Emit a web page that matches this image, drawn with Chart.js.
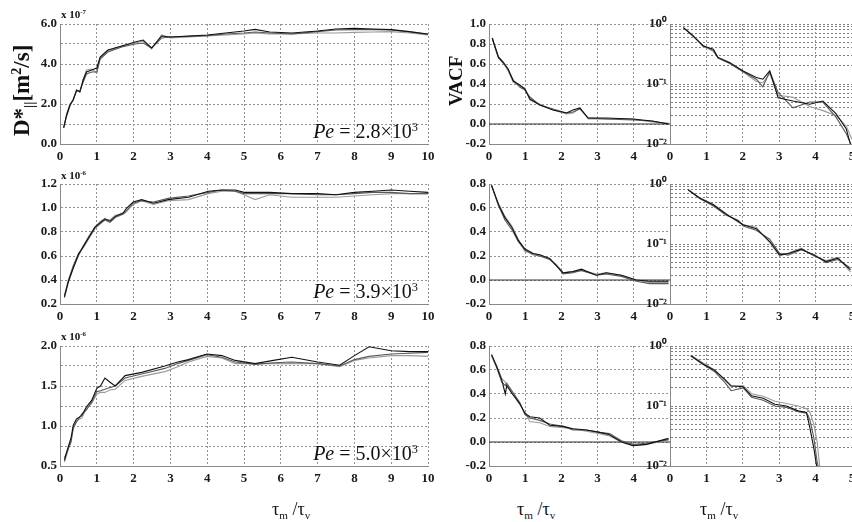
<!DOCTYPE html>
<html>
<head>
<meta charset="utf-8">
<script src="https://cdn.jsdelivr.net/npm/chart.js@4.4.1/dist/chart.umd.min.js"></script>
<style>
  body { margin: 0; background: #fff; }
  #fig { position: relative; width: 852px; height: 522px; overflow: hidden; font-family: "Liberation Serif", "DejaVu Serif", serif; color: #111; }
  #fig canvas { position: absolute; }
  .lbl { position: absolute; white-space: nowrap; z-index: 5; line-height: 1; }
  .lbl sup { font-size: 62%; vertical-align: 0; position: relative; top: -0.55em; }
  .lbl sub { font-size: 62%; vertical-align: 0; position: relative; top: 0.35em; }
  .mult { font-size: 11px; font-weight: bold; }
  .pe { font-size: 20px; }
  .vt { transform: rotate(-90deg); transform-origin: left top; font-weight: bold; font-size: 19px; }
  .big { font-size: 23px; }
  .xt { font-size: 18px; }
</style>
</head>
<body>
<div id="fig">
  <div class="lbl vt big" style="left:10px; top:136px;">D*<sub>||</sub>[m<sup>2</sup>/s]</div>
  <div class="lbl vt" style="left:446px; top:106px;">VACF</div>

  <div class="lbl mult" style="left:61px; top:9px;">x 10<sup>-7</sup></div>
  <div class="lbl mult" style="left:61px; top:170px;">x 10<sup>-6</sup></div>
  <div class="lbl mult" style="left:61px; top:331px;">x 10<sup>-6</sup></div>

  <div class="lbl pe" style="right:434px; top:121px;"><i>Pe</i> = 2.8×10<sup>3</sup></div>
  <div class="lbl pe" style="right:434px; top:281px;"><i>Pe</i> = 3.9×10<sup>3</sup></div>
  <div class="lbl pe" style="right:434px; top:443px;"><i>Pe</i> = 5.0×10<sup>3</sup></div>

  <div class="lbl xt" style="left:272px; top:500px;">τ<sub>m</sub> /τ<sub>v</sub></div>
  <div class="lbl xt" style="left:517px; top:500px;">τ<sub>m</sub> /τ<sub>v</sub></div>
  <div class="lbl xt" style="left:700px; top:500px;">τ<sub>m</sub> /τ<sub>v</sub></div>
</div>

<script>
// ---- values ----
// left column: D* vs tau_m/tau_v
const tauA = [0.1, 0.18, 0.27, 0.36, 0.45, 0.54, 0.63, 0.72, 0.86, 1.0, 1.09, 1.3, 1.68, 2.04, 2.26, 2.49, 2.76, 3.0, 3.5, 4.0, 4.5, 5.0, 5.3, 5.7, 6.3, 7.0, 7.5, 8.0, 8.5, 9.0, 9.5, 10.0];
const dA1 = [0.8, 1.45, 1.95, 2.2, 2.7, 2.6, 3.2, 3.6, 3.7, 3.8, 4.35, 4.7, 4.9, 5.1, 5.2, 4.8, 5.4, 5.35, 5.4, 5.45, 5.55, 5.65, 5.73, 5.6, 5.55, 5.65, 5.75, 5.78, 5.75, 5.72, 5.62, 5.5];
const dA2 = [0.85, 1.4, 1.9, 2.25, 2.65, 2.65, 3.1, 3.5, 3.6, 3.6, 4.25, 4.6, 4.85, 5.0, 5.05, 4.8, 5.3, 5.35, 5.38, 5.42, 5.5, 5.55, 5.6, 5.55, 5.5, 5.62, 5.7, 5.72, 5.72, 5.7, 5.6, 5.48];
const dA3 = [0.8, 1.5, 2.0, 2.2, 2.7, 2.6, 3.25, 3.7, 3.75, 3.55, 4.3, 4.65, 4.9, 5.05, 5.15, 4.75, 5.45, 5.3, 5.35, 5.4, 5.45, 5.5, 5.55, 5.5, 5.5, 5.55, 5.55, 5.58, 5.6, 5.62, 5.55, 5.45];

const tauB = [0.12, 0.23, 0.36, 0.5, 0.63, 0.77, 0.95, 1.1, 1.22, 1.36, 1.5, 1.72, 1.81, 1.99, 2.22, 2.54, 2.94, 3.49, 4.03, 4.4, 4.76, 5.0, 5.3, 5.7, 6.3, 7.0, 7.5, 8.0, 8.5, 9.0, 9.5, 10.0];
const dB1 = [0.26, 0.39, 0.50, 0.61, 0.68, 0.75, 0.84, 0.88, 0.91, 0.89, 0.93, 0.96, 1.0, 1.05, 1.07, 1.04, 1.07, 1.09, 1.14, 1.15, 1.15, 1.13, 1.13, 1.13, 1.12, 1.12, 1.11, 1.13, 1.14, 1.15, 1.14, 1.13];
const dB2 = [0.27, 0.40, 0.52, 0.62, 0.67, 0.74, 0.83, 0.87, 0.90, 0.88, 0.92, 0.95, 0.98, 1.04, 1.06, 1.05, 1.08, 1.10, 1.13, 1.15, 1.14, 1.12, 1.12, 1.12, 1.12, 1.11, 1.11, 1.12, 1.13, 1.13, 1.12, 1.12];
const dB3 = [0.25, 0.38, 0.50, 0.60, 0.68, 0.76, 0.84, 0.89, 0.91, 0.90, 0.94, 0.95, 0.97, 1.03, 1.06, 1.03, 1.06, 1.07, 1.12, 1.14, 1.14, 1.11, 1.07, 1.11, 1.09, 1.09, 1.09, 1.10, 1.11, 1.12, 1.12, 1.12];

const tauC = [0.12, 0.21, 0.3, 0.36, 0.45, 0.59, 0.72, 0.86, 1.0, 1.1, 1.22, 1.35, 1.5, 1.77, 2.22, 2.85, 3.2, 3.49, 3.99, 4.4, 4.76, 5.3, 5.8, 6.3, 7.0, 7.6, 8.0, 8.4, 9.0, 9.5, 10.0];
const dC1 = [0.57, 0.72, 0.85, 1.01, 1.09, 1.13, 1.24, 1.32, 1.47, 1.5, 1.6, 1.55, 1.5, 1.63, 1.67, 1.75, 1.8, 1.83, 1.9, 1.88, 1.82, 1.78, 1.82, 1.86, 1.8, 1.76, 1.88, 1.99, 1.94, 1.93, 1.93];
const dC2 = [0.6, 0.7, 0.8, 0.98, 1.05, 1.15, 1.2, 1.3, 1.43, 1.44, 1.46, 1.48, 1.5, 1.6, 1.65, 1.72, 1.78, 1.82, 1.89, 1.86, 1.8, 1.77, 1.79, 1.8, 1.78, 1.75, 1.83, 1.87, 1.9, 1.91, 1.92];
const dC3 = [0.55, 0.68, 0.82, 0.96, 1.07, 1.1, 1.22, 1.28, 1.4, 1.42, 1.42, 1.45, 1.46, 1.57, 1.62, 1.68, 1.74, 1.8, 1.87, 1.85, 1.78, 1.78, 1.78, 1.78, 1.78, 1.74, 1.82, 1.85, 1.88, 1.88, 1.87];

// middle column: VACF, linear
const tauD = [0.09, 0.17, 0.26, 0.39, 0.53, 0.67, 0.85, 0.99, 1.13, 1.4, 1.77, 2.14, 2.32, 2.51, 2.74, 3.24, 3.97, 4.5, 4.96];
const vD1 = [0.86, 0.77, 0.67, 0.62, 0.55, 0.43, 0.39, 0.35, 0.25, 0.19, 0.14, 0.11, 0.14, 0.16, 0.06, 0.06, 0.05, 0.03, 0.0];
const vD2 = [0.86, 0.76, 0.66, 0.61, 0.54, 0.44, 0.37, 0.34, 0.27, 0.19, 0.15, 0.11, 0.12, 0.15, 0.06, 0.05, 0.04, 0.03, 0.0];
const vD3 = [0.85, 0.77, 0.67, 0.62, 0.53, 0.42, 0.38, 0.36, 0.24, 0.20, 0.14, 0.10, 0.11, 0.16, 0.05, 0.05, 0.05, 0.02, 0.01];

const tauE = [0.07, 0.26, 0.44, 0.63, 0.81, 0.99, 1.22, 1.4, 1.68, 1.86, 2.05, 2.32, 2.55, 2.97, 3.24, 3.66, 4.07, 4.44, 4.96];
const vE1 = [0.79, 0.63, 0.52, 0.44, 0.33, 0.26, 0.22, 0.21, 0.18, 0.12, 0.06, 0.07, 0.09, 0.04, 0.06, 0.04, 0.0, -0.01, -0.01];
const vE2 = [0.79, 0.62, 0.50, 0.42, 0.32, 0.25, 0.21, 0.20, 0.17, 0.12, 0.05, 0.06, 0.08, 0.04, 0.05, 0.03, -0.01, -0.03, -0.03];
const vE3 = [0.78, 0.64, 0.53, 0.45, 0.34, 0.24, 0.22, 0.21, 0.17, 0.13, 0.06, 0.07, 0.08, 0.05, 0.06, 0.04, 0.0, -0.02, -0.02];

const tauF = [0.07, 0.21, 0.35, 0.45, 0.49, 0.67, 0.85, 0.99, 1.13, 1.4, 1.68, 2.05, 2.32, 2.69, 3.06, 3.33, 3.66, 3.98, 4.35, 4.96];
const vF1 = [0.73, 0.63, 0.52, 0.40, 0.47, 0.39, 0.32, 0.24, 0.21, 0.20, 0.14, 0.13, 0.11, 0.10, 0.08, 0.06, 0.0, -0.03, -0.02, 0.03];
const vF2 = [0.72, 0.62, 0.50, 0.47, 0.49, 0.41, 0.33, 0.23, 0.20, 0.18, 0.15, 0.13, 0.10, 0.10, 0.08, 0.07, 0.01, -0.02, -0.01, 0.02];
const vF3 = [0.72, 0.64, 0.53, 0.50, 0.48, 0.40, 0.31, 0.25, 0.17, 0.16, 0.13, 0.12, 0.11, 0.09, 0.07, 0.05, 0.0, -0.03, -0.02, 0.02];

// right column: VACF, log scale
const tauG = [0.37, 0.64, 0.91, 1.19, 1.32, 1.64, 2.01, 2.37, 2.55, 2.74, 2.97, 3.38, 3.84, 4.2, 4.56, 4.84, 5.0];
const lG1 = [0.87, 0.63, 0.43, 0.38, 0.275, 0.227, 0.165, 0.128, 0.12, 0.165, 0.059, 0.052, 0.046, 0.052, 0.032, 0.018, 0.008];
const lG2 = [0.86, 0.62, 0.44, 0.36, 0.27, 0.22, 0.16, 0.12, 0.09, 0.16, 0.072, 0.04, 0.05, 0.05, 0.028, 0.015, 0.009];
const lG3 = [0.87, 0.64, 0.42, 0.35, 0.28, 0.23, 0.16, 0.11, 0.105, 0.15, 0.065, 0.06, 0.042, 0.036, 0.03, 0.02, 0.012];

const tauH = [0.5, 0.82, 1.19, 1.55, 1.87, 2.01, 2.37, 2.74, 3.01, 3.24, 3.61, 3.97, 4.29, 4.61, 4.96];
const lH1 = [0.8, 0.58, 0.45, 0.31, 0.24, 0.21, 0.18, 0.11, 0.066, 0.069, 0.082, 0.064, 0.051, 0.058, 0.037];
const lH2 = [0.8, 0.57, 0.43, 0.30, 0.25, 0.20, 0.17, 0.12, 0.07, 0.065, 0.08, 0.066, 0.049, 0.055, 0.04];
const lH3 = [0.79, 0.59, 0.46, 0.32, 0.23, 0.21, 0.19, 0.105, 0.063, 0.07, 0.085, 0.062, 0.053, 0.06, 0.034];

const tauI = [0.57, 0.91, 1.23, 1.5, 1.68, 2.01, 2.24, 2.56, 2.88, 3.2, 3.52, 3.75, 3.84, 3.95, 4.04, 4.15];
const lI1 = [0.69, 0.5, 0.39, 0.28, 0.217, 0.21, 0.148, 0.135, 0.107, 0.1, 0.083, 0.078, 0.044, 0.02, 0.009, 0.005];
const lI2 = [0.68, 0.49, 0.37, 0.25, 0.18, 0.2, 0.14, 0.125, 0.1, 0.095, 0.08, 0.076, 0.06, 0.03, 0.012, 0.006];
const lI3 = [0.7, 0.52, 0.4, 0.27, 0.21, 0.22, 0.16, 0.145, 0.12, 0.11, 0.1, 0.09, 0.08, 0.05, 0.026, 0.006];

// log axis grid + labels
const logGrid = [0.01, 0.02, 0.03, 0.04, 0.05, 0.06, 0.07, 0.08, 0.09, 0.1, 0.2, 0.3, 0.4, 0.5, 0.6, 0.7, 0.8, 0.9, 1];
const logTickVals = [0.01, 0.1, 1];
const logTickText = ['10⁻²', '10⁻¹', '10⁰'];

const lineColors = ['#111', '#5a5a5a', '#9a9a9a'];
const tickFont = { family: 'Liberation Serif', size: 13, weight: 'bold' };

// solid line at y = 0 for the VACF panels
const zeroLine = {
    id: 'zeroLine',
    beforeDatasetsDraw(chart) {
        const { ctx, chartArea, scales } = chart;
        const py = scales.y.getPixelForValue(0);
        ctx.save();
        ctx.strokeStyle = '#333';
        ctx.lineWidth = 1;
        ctx.beginPath();
        ctx.moveTo(chartArea.left, py);
        ctx.lineTo(chartArea.right, py);
        ctx.stroke();
        ctx.restore();
    }
};

function fix1(v) {
    return Math.abs(v) < 1e-9 ? '0.0' : v.toFixed(1);
}

function makePanel(p) {
    const cv = document.createElement('canvas');
    cv.width = p.w;
    cv.height = 154;
    cv.style.left = p.left + 'px';
    cv.style.top = p.top + 'px';
    document.getElementById('fig').appendChild(cv);

    const datasets = p.ys.map((ys, k) => ({
        data: p.xs.map((x, i) => ({ x: x, y: ys[i] })),
        borderColor: lineColors[k],
        borderWidth: 1.1,
        pointRadius: 0,
        tension: 0,
        fill: false
    }));

    const y = {
        type: p.log ? 'logarithmic' : 'linear',
        min: p.yMin,
        max: p.yMax,
        grid: { color: p.log ? '#808080' : '#939393', drawTicks: false },
        border: { color: '#888', dash: [2, 2] },
        ticks: { font: tickFont, color: '#1a1a1a', padding: 3, autoSkip: false, callback: p.yLabel },
        afterFit: s => { s.width = p.yW; s.paddingTop = 0; s.paddingBottom = 0; }
    };
    if (p.step) y.ticks.stepSize = p.step;
    if (p.log) y.afterBuildTicks = s => { s.ticks = logGrid.map(v => ({ value: v })); };

    new Chart(cv, {
        type: 'line',
        data: { datasets: datasets },
        plugins: p.zero ? [zeroLine] : [],
        options: {
            responsive: false,
            animation: false,
            devicePixelRatio: 1,
            layout: { padding: { top: 12, right: p.padR, left: 0, bottom: 0 } },
            plugins: { legend: { display: false }, tooltip: { enabled: false } },
            scales: {
                x: {
                    type: 'linear',
                    min: 0,
                    max: p.xMax,
                    grid: { color: '#939393', drawTicks: false },
                    border: { color: '#888', dash: [2, 2] },
                    ticks: {
                        stepSize: 1, font: tickFont, color: '#1a1a1a', padding: 5,
                        maxRotation: 0, autoSkip: false,
                        callback: v => (p.hideLast && v === p.xMax) ? '' : String(v)
                    },
                    afterFit: s => { s.height = 22; s.paddingLeft = 0; s.paddingRight = 0; }
                },
                y: y
            }
        }
    });
}

const rowTops = [12, 172, 334];

// left column
makePanel({ left: 0, top: rowTops[0], w: 434, yW: 60, padR: 6, xMax: 10, yMin: 0, yMax: 6, step: 1,
    yLabel: v => v % 2 === 0 ? fix1(v) : '', xs: tauA, ys: [dA1, dA2, dA3] });
makePanel({ left: 0, top: rowTops[1], w: 434, yW: 60, padR: 6, xMax: 10, yMin: 0.2, yMax: 1.2, step: 0.2,
    yLabel: v => fix1(v), xs: tauB, ys: [dB1, dB2, dB3] });
makePanel({ left: 0, top: rowTops[2], w: 434, yW: 60, padR: 6, xMax: 10, yMin: 0.5, yMax: 2.0, step: 0.25,
    yLabel: v => Math.abs(v * 2 - Math.round(v * 2)) < 1e-6 ? fix1(v) : '', xs: tauC, ys: [dC1, dC2, dC3] });

// middle column
makePanel({ left: 440, top: rowTops[0], w: 236, yW: 49, padR: 6, xMax: 5, hideLast: true, zero: true,
    yMin: -0.2, yMax: 1.0, step: 0.2, yLabel: v => fix1(v), xs: tauD, ys: [vD1, vD2, vD3] });
makePanel({ left: 440, top: rowTops[1], w: 236, yW: 49, padR: 6, xMax: 5, hideLast: true, zero: true,
    yMin: -0.2, yMax: 0.8, step: 0.2, yLabel: v => fix1(v), xs: tauE, ys: [vE1, vE2, vE3] });
makePanel({ left: 440, top: rowTops[2], w: 236, yW: 49, padR: 6, xMax: 5, hideLast: true, zero: true,
    yMin: -0.2, yMax: 0.8, step: 0.2, yLabel: v => fix1(v), xs: tauF, ys: [vF1, vF2, vF3] });

// right column (log)
const logLabel = v => { const k = logTickVals.indexOf(v); return k >= 0 ? logTickText[k] : ''; };
makePanel({ left: 620, top: rowTops[0], w: 232, yW: 50, padR: 0, xMax: 5, log: true,
    yMin: 0.01, yMax: 1, yLabel: logLabel, xs: tauG, ys: [lG1, lG2, lG3] });
makePanel({ left: 620, top: rowTops[1], w: 232, yW: 50, padR: 0, xMax: 5, log: true,
    yMin: 0.01, yMax: 1, yLabel: logLabel, xs: tauH, ys: [lH1, lH2, lH3] });
makePanel({ left: 620, top: rowTops[2], w: 232, yW: 50, padR: 0, xMax: 5, log: true,
    yMin: 0.01, yMax: 1, yLabel: logLabel, xs: tauI, ys: [lI1, lI2, lI3] });
</script>
</body>
</html>
